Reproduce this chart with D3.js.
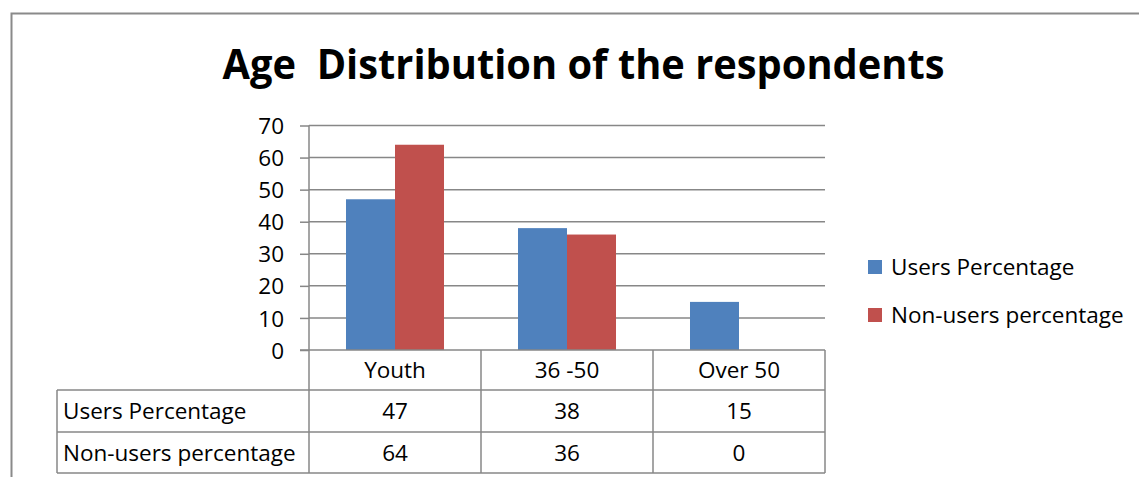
<!DOCTYPE html>
<html>
<head>
<meta charset="utf-8">
<script src="https://cdn.jsdelivr.net/npm/d3@7"></script>
<style>
  html, body { margin: 0; padding: 0; background: #fff; }
  svg { display: block; }
  text { font-family: "Open Sans", sans-serif; fill: #000; }
</style>
</head>
<body>
<svg id="chart" width="1139" height="477"></svg>
<script>
const title = "Age  Distribution of the respondents";
const categories = ["Youth", "36 -50", "Over 50"];
const seriesNames = ["Users Percentage", "Non-users percentage"];
const usersPercentage = [47, 38, 15];
const nonUsersPercentage = [64, 36, 0];
const yTicks = [0, 10, 20, 30, 40, 50, 60, 70];
const colors = ["#4F81BD", "#C0504D"];

const seriesValues = [usersPercentage, nonUsersPercentage];

const svg = d3.select("#chart");
const W = 1139, H = 477;
const gridColor = "#878787";
const fontSize = 22.5;
const fontFamily = "'Open Sans', sans-serif";

svg.append("rect").attr("width", W).attr("height", H).attr("fill", "#fff");

// outer chart frame (only left & top visible)
svg.append("path")
  .attr("d", `M11.5,${H} V13.5 H${W}`)
  .attr("fill", "none").attr("stroke", "#8a8a8a").attr("stroke-width", 2);

// title
svg.append("text")
  .attr("x", 583.5).attr("y", 79)
  .attr("text-anchor", "middle")
  .attr("font-weight", "bold")
  .attr("font-size", 41)
  .attr("font-family", "Lato, 'Open Sans', sans-serif")
  .attr("textLength", 722)
  .attr("lengthAdjust", "spacingAndGlyphs")
  .style("white-space", "pre")
  .text(title);

const plot = { left: 309, right: 825, top: 125.5, bottom: 350 };
const tableLeft = 57;
const rowLines = [390, 432, 473];

const y = d3.scaleLinear().domain([0, 70]).range([plot.bottom, plot.top]);
const x0 = d3.scaleBand().domain(categories).range([plot.left, plot.right]).padding(0);
const x1 = d3.scaleBand().domain(seriesNames).range([0, x0.bandwidth()])
  .paddingInner(0).paddingOuter(0.755);

// gridlines
svg.append("g").selectAll("line").data(yTicks.filter(d => d > 0)).join("line")
  .attr("x1", plot.left).attr("x2", plot.right)
  .attr("y1", d => y(d)).attr("y2", d => y(d))
  .attr("stroke", gridColor).attr("stroke-width", 1.5);

// y axis via d3.axisLeft
const yAxis = svg.append("g").attr("transform", `translate(${plot.left},0)`)
  .call(d3.axisLeft(y).tickValues(yTicks).tickSize(9).tickPadding(16).tickFormat(d3.format("d")));
yAxis.select(".domain").remove();
yAxis.selectAll(".tick line").attr("stroke", gridColor).attr("stroke-width", 1.5);
yAxis.selectAll(".tick text")
  .attr("font-size", fontSize).attr("font-family", fontFamily)
  .attr("fill", "#000").attr("dy", "0.36em");

// bars
const groups = svg.append("g").selectAll("g").data(categories).join("g")
  .attr("transform", d => `translate(${x0(d)},0)`);
groups.selectAll("rect")
  .data((c, i) => seriesNames.map((s, j) => ({ s, v: seriesValues[j][i], j })))
  .join("rect")
  .attr("x", d => x1(d.s))
  .attr("width", x1.bandwidth())
  .attr("y", d => y(d.v))
  .attr("height", d => y(0) - y(d.v))
  .attr("fill", d => colors[d.j]);

// axis lines
const lines = svg.append("g").attr("stroke", gridColor).attr("stroke-width", 1.5);
lines.append("line").attr("x1", plot.left).attr("x2", plot.left)
  .attr("y1", plot.top).attr("y2", rowLines[2]);
lines.append("line").attr("x1", plot.left - 9).attr("x2", plot.right)
  .attr("y1", plot.bottom).attr("y2", plot.bottom);
rowLines.forEach(ry => {
  lines.append("line").attr("x1", tableLeft).attr("x2", plot.right)
    .attr("y1", ry).attr("y2", ry);
});
lines.append("line").attr("x1", tableLeft).attr("x2", tableLeft)
  .attr("y1", rowLines[0]).attr("y2", rowLines[2]);
categories.forEach(c => {
  const xr = x0(c) + x0.bandwidth();
  lines.append("line").attr("x1", xr).attr("x2", xr)
    .attr("y1", plot.bottom).attr("y2", rowLines[2]);
});

// category labels
svg.append("g").selectAll("text").data(categories).join("text")
  .attr("x", d => x0(d) + x0.bandwidth() / 2)
  .attr("y", 377.5)
  .attr("text-anchor", "middle")
  .attr("font-size", fontSize)
  .text(d => d);

// table rows
const rowBaselines = [419, 460.5];
seriesNames.forEach((s, j) => {
  svg.append("text").attr("x", 63).attr("y", rowBaselines[j])
    .attr("font-size", fontSize).text(s);
  svg.append("g").selectAll("text").data(categories).join("text")
    .attr("x", d => x0(d) + x0.bandwidth() / 2)
    .attr("y", rowBaselines[j])
    .attr("text-anchor", "middle")
    .attr("font-size", fontSize)
    .text((d, i) => seriesValues[j][i]);
});

// legend
const legend = svg.append("g").selectAll("g").data(seriesNames).join("g")
  .attr("transform", (d, i) => `translate(868,${260 + i * 48})`);
legend.append("rect").attr("width", 14).attr("height", 14)
  .attr("fill", (d, i) => colors[i]);
legend.append("text").attr("x", 23).attr("y", 15)
  .attr("font-size", fontSize).text(d => d);
</script>
</body>
</html>
